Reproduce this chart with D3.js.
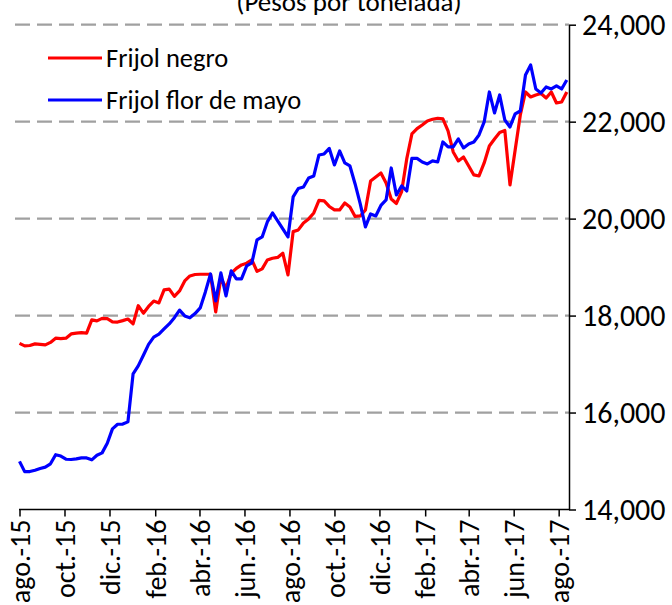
<!DOCTYPE html>
<html>
<head>
<meta charset="utf-8">
<script src="https://cdn.jsdelivr.net/npm/d3@7"></script>
<style>
    body { margin: 0; background: #fff; }
    svg text { font-family: Carlito, Lato, sans-serif; fill: #000; }
</style>
</head>
<body>
<div id="chart"></div>
<script>
// weekly prices, pesos per tonne, starting first week of Aug 2015
const startDate = new Date(2015, 7, 1);

const frijolNegro = [
    17426, 17375, 17383, 17416, 17406, 17395, 17447, 17534, 17525, 17534,
    17622, 17637, 17647, 17639, 17911, 17890, 17942, 17936, 17872, 17866,
    17896, 17929, 17828, 18204, 18049, 18189, 18299, 18261, 18529, 18546,
    18395, 18509, 18715, 18818, 18847, 18853, 18853, 18853, 18076, 18777,
    18571, 18870, 18973, 19045, 19080, 19148, 18911, 18963, 19148, 19183,
    19200, 19286, 18839, 19732, 19767, 19911, 19994, 20117, 20375, 20365,
    20251, 20179, 20179, 20323, 20241, 20045, 20055, 20179, 20777, 20860,
    20942, 20736, 20406, 20313, 20550, 21231, 21746, 21856, 21932, 22014,
    22049, 22070, 22056, 21808, 21375, 21190, 21272, 21086, 20901, 20880,
    21148, 21499, 21643, 21777, 21818, 20695, 21416, 22138, 22612, 22509,
    22550, 22581, 22489, 22612, 22385, 22406, 22612
];

const frijolFlorDeMayo = [
    14993, 14781, 14783, 14810, 14847, 14874, 14942, 15131, 15102, 15037,
    15031, 15045, 15065, 15063, 15024, 15119, 15168, 15366, 15663, 15758,
    15762, 15808, 16797, 16962, 17183, 17406, 17556, 17618, 17725, 17828,
    17956, 18113, 17993, 17954, 18041, 18158, 18488, 18859, 18303, 18880,
    18406, 18921, 18756, 18756, 19024, 19086, 19561, 19622, 19932, 20117,
    19952, 19787, 19622, 20447, 20622, 20653, 20839, 20880, 21313, 21334,
    21447, 21107, 21396, 21148, 21086, 20715, 20303, 19829, 20097, 20055,
    20272, 20385, 21045, 20488, 20674, 20571, 21245, 21242, 21169, 21128,
    21190, 21169, 21581, 21478, 21478, 21643, 21458, 21540, 21581, 21726,
    21994, 22612, 22179, 22550, 22035, 21891, 22159, 22220, 22963, 23169,
    22674, 22592, 22715, 22674, 22736, 22674, 22860
];

const xTickLabels = ["ago.-15", "oct.-15", "dic.-15", "feb.-16", "abr.-16", "jun.-16", "ago.-16",
                     "oct.-16", "dic.-16", "feb.-17", "abr.-17", "jun.-17", "ago.-17"];
const yTicks = [14000, 16000, 18000, 20000, 22000, 24000];

const seriesNames = ["Frijol negro", "Frijol flor de mayo"];
const seriesColors = ["#ff0000", "#0000ff"];

const width = 672;
const height = 605;

const dates = frijolNegro.map((d, i) => d3.timeDay.offset(startDate, 7 * i));
const tickDates = xTickLabels.map((d, i) => d3.timeMonth.offset(startDate, 2 * i));

const svg = d3.select("#chart")
    .append("svg")
    .attr("width", width)
    .attr("height", height);

// scales
const xScale = d3.scaleTime()
    .domain([startDate, new Date(2017, 7, 15)])
    .range([19.5, 569]);

const yScale = d3.scaleLinear()
    .domain([14000, 24000])
    .range([509.5, 24.7]);

// dashed gridlines
svg.append("g")
    .selectAll("line")
    .data(yTicks.filter(d => d > 14000))
    .enter()
    .append("line")
    .attr("x1", 15)
    .attr("x2", 569)
    .attr("y1", d => yScale(d))
    .attr("y2", d => yScale(d))
    .attr("stroke", "#a0a0a0")
    .attr("stroke-width", 2.2)
    .attr("stroke-dasharray", "15,7");

// lines
const line = d3.line()
    .x((d, i) => xScale(dates[i]))
    .y(d => yScale(d));

[frijolNegro, frijolFlorDeMayo].forEach((values, k) => {
    svg.append("path")
        .datum(values)
        .attr("fill", "none")
        .attr("stroke", seriesColors[k])
        .attr("stroke-width", 3.2)
        .attr("stroke-linejoin", "round")
        .attr("d", line);
});

// X axis
const xAxis = svg.append("g")
    .attr("transform", `translate(0,${yScale(14000)})`)
    .call(d3.axisBottom(xScale)
        .tickValues(tickDates)
        .tickFormat((d, i) => xTickLabels[i])
        .tickSize(7)
        .tickSizeOuter(0));

xAxis.select(".domain").attr("stroke", "#000").attr("stroke-width", 1.5)
    .attr("d", `M19,0H569`);
xAxis.selectAll(".tick line").attr("stroke", "#000").attr("stroke-width", 1.5);
xAxis.selectAll(".tick text")
    .attr("font-size", 28)
    .attr("text-anchor", "end")
    .attr("transform", "rotate(-90)")
    .attr("x", -10)
    .attr("y", 0)
    .attr("dy", "0.35em");

// Y axis on the right
const yAxis = svg.append("g")
    .attr("transform", "translate(569,0)")
    .call(d3.axisRight(yScale)
        .tickValues(yTicks)
        .tickFormat(d3.format(","))
        .tickSize(7)
        .tickPadding(6)
        .tickSizeOuter(0));

yAxis.select(".domain").attr("stroke", "#000").attr("stroke-width", 1.5);
yAxis.selectAll(".tick line").attr("stroke", "#000").attr("stroke-width", 1.5);
yAxis.selectAll(".tick text").attr("font-size", 30);

// title (partly cut off at the top)
svg.append("text")
    .attr("x", 349)
    .attr("y", 11)
    .attr("text-anchor", "middle")
    .attr("font-size", 27)
    .text("(Pesos por tonelada)");

// legend
const legend = svg.append("g");
seriesNames.forEach((name, k) => {
    const y = 58 + k * 42;
    legend.append("line")
        .attr("x1", 48).attr("x2", 102)
        .attr("y1", y).attr("y2", y)
        .attr("stroke", seriesColors[k])
        .attr("stroke-width", 3.2);
    legend.append("text")
        .attr("x", 106)
        .attr("y", y)
        .attr("dy", "0.35em")
        .attr("font-size", 26.5)
        .text(name);
});
</script>
</body>
</html>
